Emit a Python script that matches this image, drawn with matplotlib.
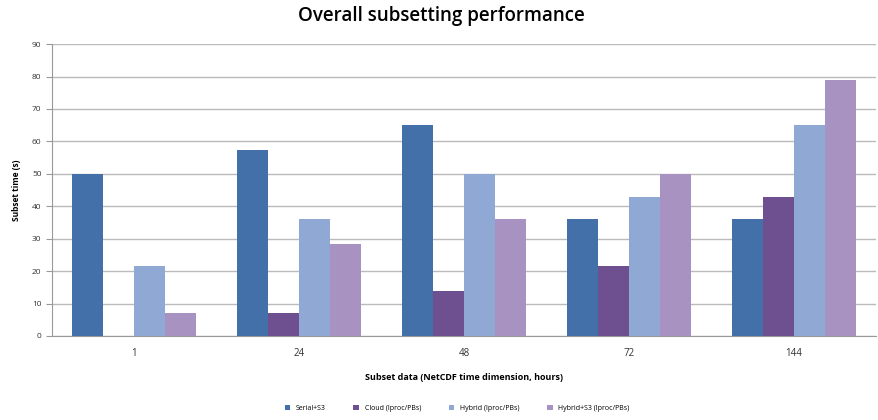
import numpy as np
import matplotlib.pyplot as plt

# subset sizes (hours) and timings
hours = ['1', '24', '48', '72', '144']
serial_s3 = [50, 57.5, 65, 36, 36]
cloud = [0, 7, 14, 21.5, 43]
hybrid = [21.5, 36, 50, 43, 65]
hybrid_s3 = [7, 28.5, 36, 50, 79]

series = ['Serial+S3', 'Cloud (Iproc/PBs)', 'Hybrid (Iproc/PBs)', 'Hybrid+S3 (Iproc/PBs)']
colors = ['#4470AA', '#6E4F8F', '#8FA8D4', '#A892C2']

plt.rcParams['font.family'] = ['Open Sans', 'DejaVu Sans']

fig = plt.figure(figsize=(8.79, 4.2), dpi=100)
ax = fig.add_axes([0.059, 0.2, 0.938, 0.695])

x = np.arange(len(hours))
w = 0.188
for i, vals in enumerate([serial_s3, cloud, hybrid, hybrid_s3]):
    ax.bar(x + (i - 1.5) * w, vals, width=w, color=colors[i], label=series[i], zorder=3)

ax.set_xlim(-0.5, len(hours) - 0.5)
ax.set_ylim(0, 90)
ax.set_yticks(range(0, 91, 10))
ax.set_xticks(x)
ax.set_xticklabels(hours)
ax.grid(axis='y', color='#BBBBBB', linewidth=1, zorder=0)

for s in ['top', 'right']:
    ax.spines[s].set_visible(False)
for s in ['left', 'bottom']:
    ax.spines[s].set_color('#999999')
ax.tick_params(axis='y', labelsize=6, length=4, color='#999999', colors='#333333')
ax.tick_params(axis='x', labelsize=7, length=0, pad=9, colors='#333333')

fig.suptitle('Overall subsetting performance', x=0.502, y=0.985, fontsize=13.5, fontweight='semibold')
ax.set_xlabel('Subset data (NetCDF time dimension, hours)', fontsize=6.5, fontweight='bold', labelpad=10)
ax.set_ylabel('Subset time (s)', fontsize=6, fontweight='bold', labelpad=8)

fig.legend(loc='lower center', bbox_to_anchor=(0.52, 0.005), ncol=4, fontsize=5,
           frameon=False, handlelength=0.8, handleheight=0.8, columnspacing=4)

plt.savefig('out.png')
